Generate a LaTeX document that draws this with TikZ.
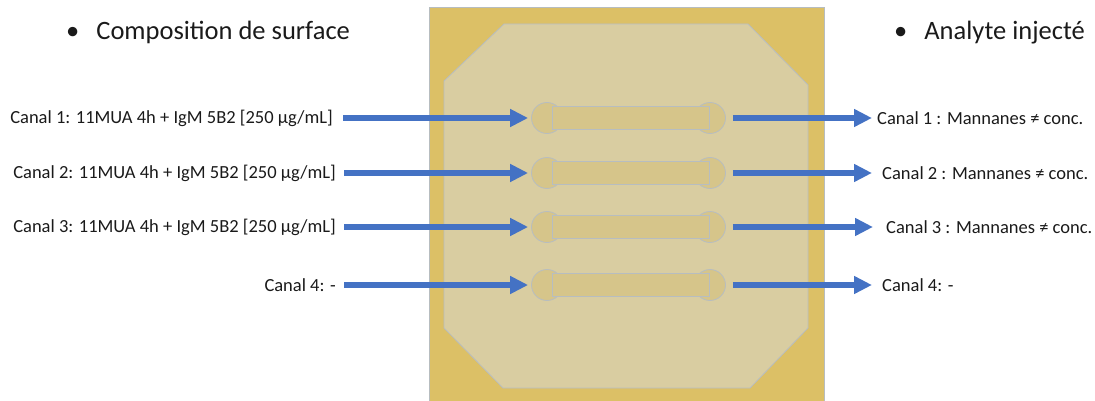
\documentclass[tikz,border=0pt]{standalone}
\usepackage{fontspec}
\setmainfont{Carlito}
\usetikzlibrary{arrows.meta}
\definecolor{gold}{HTML}{DCC066}
\definecolor{beige}{HTML}{D9CDA1}
\definecolor{chan}{HTML}{D6C58A}
\definecolor{edgegrey}{HTML}{B7BDC0}
\definecolor{arrowblue}{HTML}{4472C4}
\definecolor{txt}{HTML}{1A1A1A}
\tikzset{
  port/.style={circle, minimum size=31pt, inner sep=0pt, fill=chan, draw=edgegrey, line width=0.8pt},
  lbl/.style={font=\fontsize{18.5}{22}\selectfont, text=txt, inner sep=0pt},
  head/.style={font=\fontsize{26.5}{30}\selectfont, text=txt, inner sep=0pt, anchor=base west},
  flow/.style={draw=arrowblue, line width=6pt, -{Triangle[length=18pt,width=17pt]}}
}
\begin{document}
\begin{tikzpicture}[x=1pt,y=-1pt]
\useasboundingbox (0,0) rectangle (1095,401);
% chip
\draw[fill=gold, draw=edgegrey, line width=0.6pt] (429,7) rectangle (824,401);
\draw[fill=beige, draw=edgegrey, line width=0.8pt]
  (504,24) -- (748,24) -- (808,85) -- (808,328) -- (750,388) -- (503,388) -- (444,328) -- (444,81) -- cycle;
% headings
\node[head] (h1) at (66,40) {•\hspace{17pt}Composition de surface};
\node[head] (h2) at (894,40) {•\hspace{17pt}Analyte injecté};
% channels
\foreach \i/\y in {1/118,2/173,3/227,4/285}{
  \node[port] (i\i) at (547,\y) {};
  \node[port] (o\i) at (710,\y) {};
  \draw[fill=chan, draw=edgegrey, line width=0.8pt] (552,\y-11.5) rectangle (709,\y+11.5);
}
% left labels
\node[lbl, anchor=east] (l1) at (333,118) {Canal 1: 11MUA 4h + IgM 5B2 [250 µg/mL]};
\node[lbl, anchor=east] (l2) at (336,173) {Canal 2: 11MUA 4h + IgM 5B2 [250 µg/mL]};
\node[lbl, anchor=east] (l3) at (336,227) {Canal 3: 11MUA 4h + IgM 5B2 [250 µg/mL]};
\node[lbl, anchor=east] (l4) at (336,285) {Canal 4: -};
% right labels
\node[lbl, anchor=west] (r1) at (877,118) {Canal 1 : Mannanes ≠ conc.};
\node[lbl, anchor=west] (r2) at (882,173) {Canal 2 : Mannanes ≠ conc.};
\node[lbl, anchor=west] (r3) at (886,227) {Canal 3 : Mannanes ≠ conc.};
\node[lbl, anchor=west] (r4) at (882,285) {Canal 4: -};
% arrows
\draw[flow] ([xshift=10pt]l1.east) -- ([xshift=-3pt]i1.west);
\draw[flow] ([xshift=8pt]l2.east) -- ([xshift=-3pt]i2.west);
\draw[flow] ([xshift=8pt]l3.east) -- ([xshift=-3pt]i3.west);
\draw[flow] ([xshift=8pt]l4.east) -- ([xshift=-3pt]i4.west);
\draw[flow] ([xshift=7pt]o1.east) -- ([xshift=-5pt]r1.west);
\draw[flow] ([xshift=7pt]o2.east) -- ([xshift=-10pt]r2.west);
\draw[flow] ([xshift=7pt]o3.east) -- ([xshift=-13pt]r3.west);
\draw[flow] ([xshift=7pt]o4.east) -- ([xshift=-10pt]r4.west);
\end{tikzpicture}
\end{document}
